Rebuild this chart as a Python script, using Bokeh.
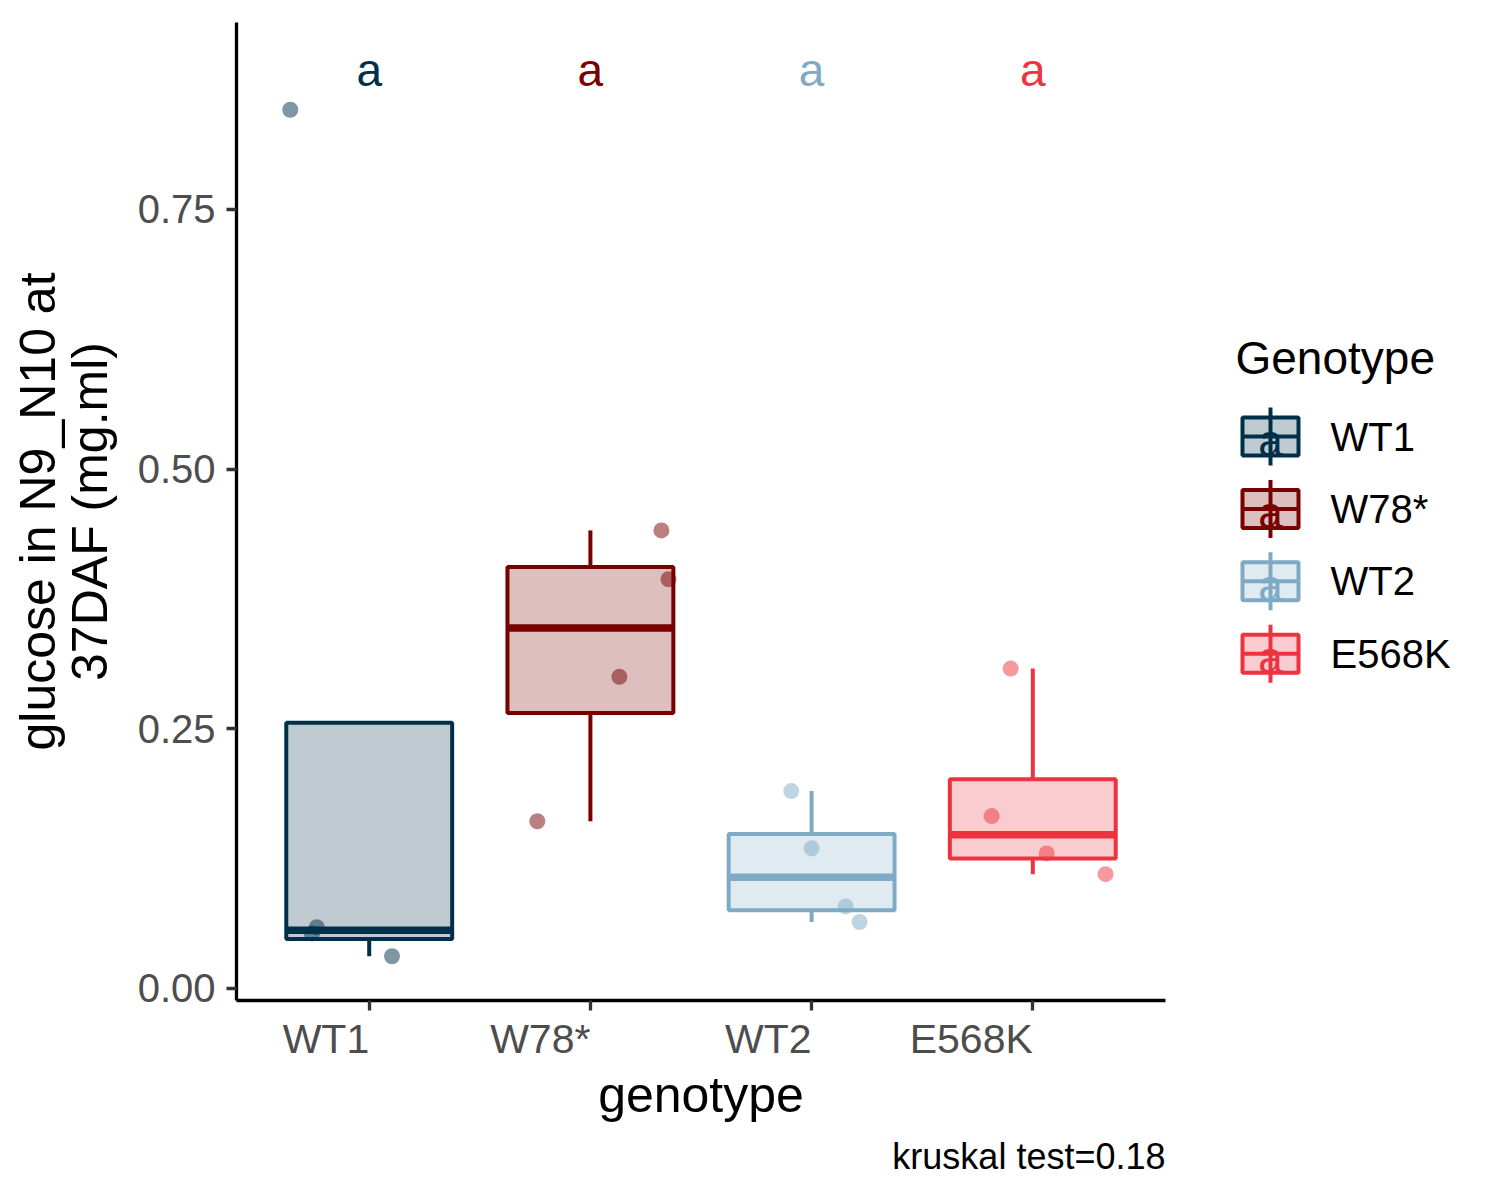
import numpy as np
from bokeh.plotting import figure
from bokeh.models import (ColumnDataSource, Range1d, FixedTicker,
                          PrintfTickFormatter, LinearAxis, CustomJSTickFormatter, Title)
from bokeh.layouts import row
from bokeh.embed import file_html
from bokeh.resources import INLINE
from bokeh.core.properties import value

# ---------------- data ----------------
genotypes = ["WT1", "W78*", "WT2", "E568K"]
colors = ["#003049", "#780000", "#7FAAC6", "#EE3340"]
letters = ["a", "a", "a", "a"]
letter_y = 0.884

wt1_values = [0.846, 0.059, 0.053, 0.031]
w78_values = [0.161, 0.300, 0.441, 0.394]
wt2_values = [0.190, 0.135, 0.079, 0.064]
e568k_values = [0.166, 0.130, 0.110, 0.308]

# horizontal jitter (category units)
wt1_jitter = [-0.357, -0.237, -0.259, 0.103]
w78_jitter = [-0.240, 0.131, 0.321, 0.353]
wt2_jitter = [-0.092, 0.000, 0.154, 0.217]
e568k_jitter = [-0.186, 0.063, 0.329, -0.100]

y_ticks = [0.0, 0.25, 0.50, 0.75]
x_title = "genotype"
y_title = "glucose in N9_N10 at\n37DAF (mg.ml)"
legend_title = "Genotype"
kruskal_label = "kruskal test=0.18"

FONT = "Liberation Sans"

all_values = [wt1_values, w78_values, wt2_values, e568k_values]
all_jitter = [wt1_jitter, w78_jitter, wt2_jitter, e568k_jitter]
positions = [i + 1 for i in range(len(genotypes))]   # discrete positions 1..4


def box_stats(v):
    v = np.asarray(v, dtype=float)
    q1, med, q3 = np.percentile(v, [25, 50, 75])
    iqr = q3 - q1
    inside = v[(v >= q1 - 1.5 * iqr) & (v <= q3 + 1.5 * iqr)]
    lo = min(q1, inside.min())
    hi = max(q3, inside.max())
    return q1, med, q3, lo, hi


stats = [box_stats(v) for v in all_values]
BOX_W = 0.75
box_src = ColumnDataSource(dict(
    x=positions,
    g=genotypes,
    color=colors,
    q1=[s[0] for s in stats],
    med=[s[1] for s in stats],
    q3=[s[2] for s in stats],
    lo=[s[3] for s in stats],
    hi=[s[4] for s in stats],
    xl=[x - BOX_W / 2 for x in positions],
    xr=[x + BOX_W / 2 for x in positions],
    letter=letters,
    ly=[letter_y] * len(genotypes),
))

pt_x, pt_y, pt_c = [], [], []
for x0, c, vals, jit in zip(positions, colors, all_values, all_jitter):
    for v, j in zip(vals, jit):
        pt_x.append(x0 + j)
        pt_y.append(v)
        pt_c.append(c)
pt_src = ColumnDataSource(dict(x=pt_x, y=pt_y, color=pt_c))

# ---------------- main figure ----------------
Y0, Y1 = -0.0116, 0.93
X0, X1 = 0.4, 4.6
FRAME_W, FRAME_H = 929, 978
p = figure(
    title=None,
    x_range=Range1d(X0, X1),
    y_range=Range1d(Y0, Y1),
    frame_width=FRAME_W, frame_height=FRAME_H,
    min_border_left=236, min_border_right=10, min_border_top=22, min_border_bottom=150,
    output_backend="svg", toolbar_location=None,
)
p.align = "start"
p.background_fill_color = "white"
p.border_fill_color = "white"
p.outline_line_color = None
p.xgrid.visible = False
p.ygrid.visible = False

for ax in (p.xaxis[0], p.yaxis[0]):
    ax.axis_line_color = "black"
    ax.axis_line_width = 3.3
    ax.major_tick_line_color = "#333333"
    ax.major_tick_line_width = 3.3
    ax.major_tick_out = 10
    ax.major_tick_in = 0
    ax.minor_tick_line_color = None

# y axis
p.yaxis.ticker = FixedTicker(ticks=y_ticks)
p.yaxis.formatter = PrintfTickFormatter(format="%.2f")
p.yaxis.major_label_text_font = FONT
p.yaxis.major_label_text_font_size = "40px"
p.yaxis.major_label_text_color = "#4D4D4D"
p.yaxis.major_label_standoff = 11
p.yaxis.axis_label = y_title
p.yaxis.axis_label_text_font = FONT
p.yaxis.axis_label_text_font_size = "50px"
p.yaxis.axis_label_text_font_style = "normal"
p.yaxis.axis_label_text_color = "black"
p.yaxis.axis_label_text_line_height = 0.92
p.yaxis.axis_label_standoff = 17

# x axis with ticks at the genotype positions (labels drawn by the second axis)
p.xaxis.ticker = FixedTicker(ticks=positions)
p.xaxis.formatter = CustomJSTickFormatter(code="return '';")
p.xaxis.major_label_text_font_size = "1px"
p.xaxis.major_label_standoff = 0

# second (label) axis: genotype names right-aligned at each tick
xscale = FRAME_W / (X1 - X0)
LBL_PX = 41
label_w_em = [2.111, 2.445, 2.111, 3.002]   # text advance widths (em), Arial metrics
label_centres = [x - (w * LBL_PX / 2) / xscale for x, w in zip(positions, label_w_em)]
lab_axis = LinearAxis(ticker=FixedTicker(ticks=label_centres),
                      formatter=CustomJSTickFormatter(args=dict(names=genotypes),
                                                      code="return names[index];"))
lab_axis.axis_line_color = None
lab_axis.major_tick_line_color = None
lab_axis.minor_tick_line_color = None
lab_axis.major_tick_out = 0
lab_axis.major_tick_in = 0
lab_axis.major_label_standoff = 5
lab_axis.major_label_text_font = FONT
lab_axis.major_label_text_font_size = f"{LBL_PX}px"
lab_axis.major_label_text_color = "#4D4D4D"
lab_axis.axis_label = x_title
lab_axis.axis_label_text_font = FONT
lab_axis.axis_label_text_font_size = "50px"
lab_axis.axis_label_text_font_style = "normal"
lab_axis.axis_label_text_color = "black"
lab_axis.axis_label_standoff = 2
p.add_layout(lab_axis, "below")

cap = Title(text=kruskal_label, align="right", text_font=FONT, text_font_size="36px",
            text_font_style="normal", text_color="black", standoff=17)
p.add_layout(cap, "below")

# whiskers
p.segment(x0="x", y0="q3", x1="x", y1="hi", source=box_src, line_color="color", line_width=4)
p.segment(x0="x", y0="q1", x1="x", y1="lo", source=box_src, line_color="color", line_width=4)
# boxes
p.vbar(x="x", width=BOX_W, bottom="q1", top="q3", source=box_src,
       fill_color="color", fill_alpha=0.25, line_color="color", line_width=4)
# medians
p.segment(x0="xl", y0="med", x1="xr", y1="med", source=box_src, line_color="color", line_width=7.5)
# jittered points
p.scatter(x="x", y="y", source=pt_src, size=16, fill_color="color", fill_alpha=0.5, line_color=None)
# letters
p.text(x="x", y="ly", text="letter", source=box_src, text_color="color",
       text_font=value(FONT), text_font_size="46px", text_align="center", text_baseline="middle")

# ---------------- legend figure (page-pixel coordinates) ----------------
LX0, LX1, LH = 1175, 1484, 1184
OFF = 23   # vertical offset of the legend figure inside the row
leg = figure(title=None, x_range=Range1d(LX0, LX1), y_range=Range1d(LH + OFF, OFF),
             frame_width=LX1 - LX0, frame_height=LH, min_border=0,
             x_axis_location=None, y_axis_location=None,
             output_backend="svg", toolbar_location=None)
leg.align = "start"
leg.background_fill_color = "white"
leg.border_fill_color = "white"
leg.outline_line_color = None
leg.xgrid.visible = False
leg.ygrid.visible = False

rows_y = [437 + 72.4 * i for i in range(len(genotypes))]
kx0, kx1, kxc = 1242, 1298, 1270
leg_src = ColumnDataSource(dict(
    y=rows_y, color=colors, g=genotypes, letter=letters,
    wt=[y - 29 for y in rows_y], wb=[y + 29 for y in rows_y],
    bt=[y - 19 for y in rows_y], bb=[y + 19 for y in rows_y],
    ay=[y + 4 for y in rows_y],
))
leg.segment(x0=kxc, y0="wt", x1=kxc, y1="wb", source=leg_src, line_color="color", line_width=4)
leg.quad(left=kx0, right=kx1, top="bt", bottom="bb", source=leg_src,
         fill_color="color", fill_alpha=0.25, line_color="color", line_width=4)
leg.segment(x0=kx0, y0="y", x1=kx1, y1="y", source=leg_src, line_color="color", line_width=4)
leg.text(x=kxc, y="ay", text="letter", source=leg_src, text_color="color",
         text_font=value(FONT), text_font_size="44px", text_align="center",
         text_baseline="middle")
leg.text(x=1330, y="y", text="g", source=leg_src, text_color="black",
         text_font=value(FONT), text_font_size="40px", text_align="left",
         text_baseline="middle")
leg.text(x=[1235], y=[358], text=[legend_title], text_color="black",
         text_font=value(FONT), text_font_size="46px", text_align="left",
         text_baseline="middle")

layout = row(p, leg)
open("out.html", "w").write(file_html(layout, INLINE))
